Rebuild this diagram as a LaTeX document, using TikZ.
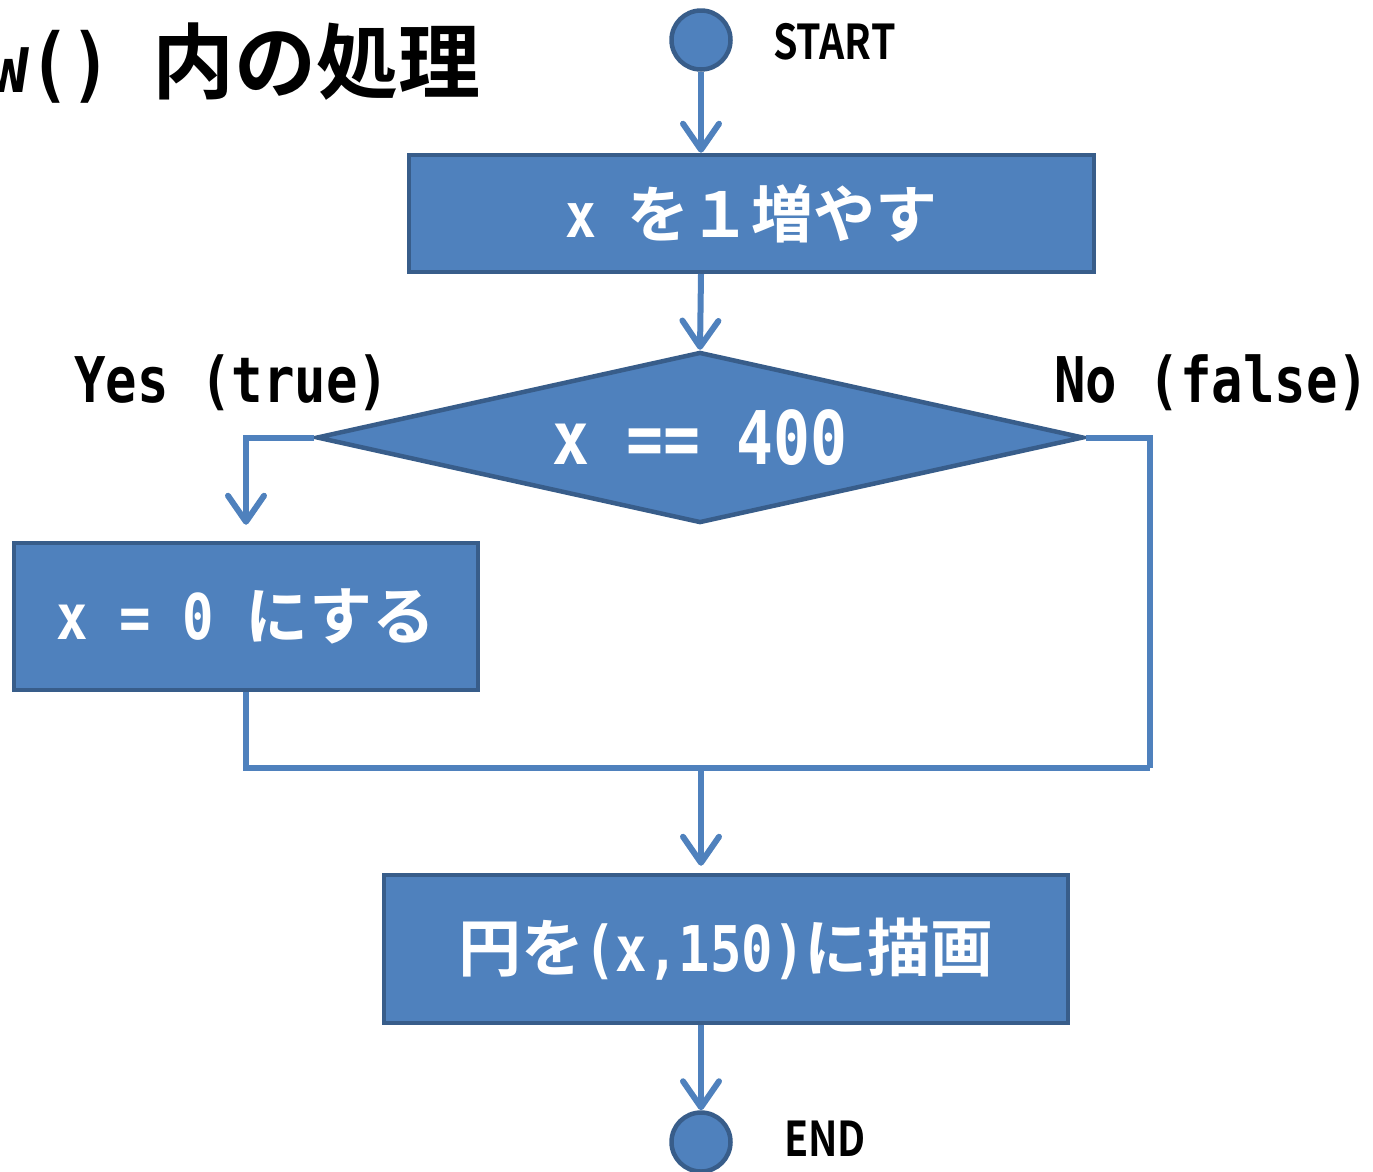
\documentclass[tikz,border=0pt]{standalone}
\usepackage{fontspec}
\usetikzlibrary{shapes.geometric,arrows.meta}
\newfontfamily\jp{Noto Sans CJK JP Bold}
\newfontfamily\jpc{Noto Sans CJK JP Bold}[FakeStretch=0.82]
\newfontfamily\mono{DejaVu Sans Mono Bold}[FakeStretch=0.83]
\definecolor{fillb}{HTML}{4F81BD}
\definecolor{bdr}{HTML}{385D8A}
\definecolor{lineb}{HTML}{4F81BD}
\newcommand{\fs}[1]{\fontsize{#1}{#1}\selectfont}
\tikzset{
  proc/.style={rectangle, draw=bdr, fill=fillb, line width=4.5pt, text=white, inner sep=0pt},
  deci/.style={diamond, aspect=4.485, draw=bdr, fill=fillb, line width=4.5pt, text=white, inner sep=0pt},
  term/.style={circle, draw=bdr, fill=fillb, line width=4.5pt, inner sep=0pt, minimum size=59pt},
  lbl/.style={inner sep=0pt, text=black},
  conn/.style={draw=lineb, line width=6pt},
  arr/.style={conn, -{Straight Barb[length=26pt,width=36pt,round]}}
}
\begin{document}
\begin{tikzpicture}[x=1pt,y=-1pt]
\useasboundingbox (0,0) rectangle (1373,1171);
% title
\node[lbl, anchor=base west] (title) at (-12,92) {\fs{82}\mono w() \jp 内の処理};
% terminals
\node[term] (start) at (701,40) {};
\node[lbl, anchor=base west] (startl) at (773,59) {\fs{48}\jpc START};
\node[term] (end) at (701,1142) {};
\node[lbl, anchor=base west] (endl) at (784,1156) {\fs{48}\jpc END};
% process boxes
\node[proc, minimum width=685pt, minimum height=117pt] (b1) at (751.5,213.5) {\fs{62}\mono x \jp を１増やす};
\node[deci, minimum width=767pt, minimum height=171pt] (d) at (700,437.5) {\fs{74}\mono x == 400};
\node[proc, minimum width=464pt, minimum height=147pt] (b2) at (246,616.5) {\fs{63}\mono x = 0 \jp にする};
\node[proc, minimum width=684pt, minimum height=148pt] (b3) at (726,949) {\fs{63}\jp 円を\mono (x,150)\jp に描画};
% labels
\node[lbl, anchor=base west] (yes) at (74,402) {\fs{63}\mono Yes (true)};
\node[lbl, anchor=base west] (no) at (1054,402) {\fs{63}\mono No (false)};
% merge points
\coordinate (mr) at (1150,768);
\coordinate (mc) at (701,768);
% connectors
\draw[arr] (start.south) -- (start.south |- b1.north);
\draw[arr] (701,274) -- (d.north);
\draw[arr] (d.west) -| ([yshift=16pt]b2.north);
\draw[conn] (d.east) -| (mr);
\draw[conn] (b2.south) |- (mr);
\draw[arr] (mc) -- ([yshift=7pt]mc |- b3.north);
\draw[arr] (701,1025) -- (end.north);
\end{tikzpicture}
\end{document}
